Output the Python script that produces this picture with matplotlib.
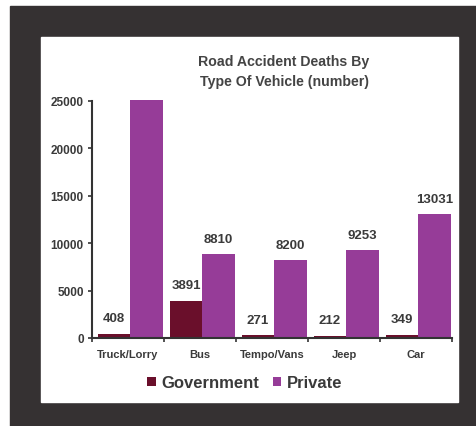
import matplotlib
matplotlib.use("Agg")
import matplotlib.pyplot as plt
from matplotlib.patches import Rectangle
import numpy as np

categories = ["Truck/Lorry", "Bus", "Tempo/Vans", "Jeep", "Car"]
government = [408, 3891, 271, 212, 349]
private = [25100, 8810, 8200, 9253, 13031]
yticks = [0, 5000, 10000, 15000, 20000, 25000]

gov_color = "#6a0f2b"
priv_color = "#963c98"
text_color = "#3a3a3a"
font = ["Liberation Sans Narrow", "Liberation Sans", "DejaVu Sans"]

W, H = 476, 427
fig = plt.figure(figsize=(W / 100, H / 100), dpi=100)
fig.patch.set_facecolor("white")

def px_rect(x0, y0, x1, y1, color):
    # pixel coords from top-left
    fig.patches.append(Rectangle((x0 / W, 1 - y1 / H), (x1 - x0) / W, (y1 - y0) / H,
                                 transform=fig.transFigure, color=color, zorder=-10))

px_rect(10, 7, W, H, "#353132")
px_rect(41, 38, 458, 403, "white")

ax = fig.add_axes([92 / W, 1 - 339 / H, 360 / W, 237 / H])
ax.set_facecolor("none")

x = np.arange(len(categories))
w = 0.45
b1 = ax.bar(x - w / 2 + 0.03, government, w, color=gov_color, label="Government", clip_on=False)
b2 = ax.bar(x + w / 2 + 0.03, private, w, color=priv_color, label="Private", clip_on=False)

for bars, vals in ((b1, government), (b2, private)):
    for i, (r, v) in enumerate(zip(bars, vals)):
        if i == 0 and bars is b2:
            continue
        ax.annotate(str(v), (r.get_x() + r.get_width() / 2, r.get_height()),
                    xytext=(0, 7), textcoords="offset points", ha="center", va="bottom",
                    fontsize=9.5, fontweight="bold", color=text_color, family=font)

ax.set_xlim(-0.5, len(categories) - 0.5)
ax.set_ylim(0, 25000)
ax.set_yticks(yticks)
ax.set_yticklabels([str(t) for t in yticks], fontsize=8.5, fontweight="bold",
                   color=text_color, family=font)
ax.set_xticks(np.arange(len(categories) + 1) - 0.5, minor=False)
ax.set_xticklabels([])
ax.set_xticks(x, minor=True)
ax.set_xticklabels(categories, minor=True, fontsize=8, fontweight="bold",
                   color=text_color, family=font)
ax.tick_params(axis="x", which="minor", length=0, pad=8)
ax.tick_params(axis="x", which="major", length=3, width=1.2, color="#333333")
ax.tick_params(axis="y", length=3, width=1.2, color="#333333", pad=3)
for s in ["top", "right"]:
    ax.spines[s].set_visible(False)
for s in ["left", "bottom"]:
    ax.spines[s].set_linewidth(1.5)
    ax.spines[s].set_color("#333333")

fig.text(284 / W, 1 - 72 / H, "Road Accident Deaths By\nType Of Vehicle (number)",
         ha="center", va="center", fontsize=10.2, fontweight="bold", color="#444444",
         family=font, linespacing=1.6)

leg = fig.legend(loc="center", bbox_to_anchor=(245 / W, 1 - 384 / H), ncol=2,
                 frameon=False, handlelength=0.5, handleheight=0.5, handletextpad=0.35,
                 columnspacing=0.8, prop={"family": font, "weight": "bold", "size": 12})
for t in leg.get_texts():
    t.set_color(text_color)

fig.savefig("out.png", dpi=100, facecolor=fig.get_facecolor())
